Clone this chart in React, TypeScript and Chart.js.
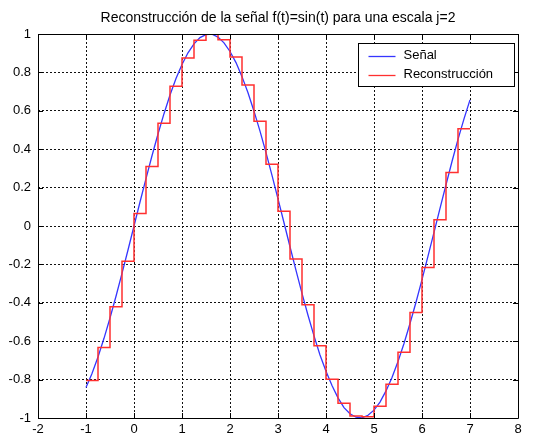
import React, { useEffect, useRef } from 'react';
import { Chart, registerables } from 'chart.js';

Chart.register(...registerables);

const titleText = 'Reconstrucción de la señal f(t)=sin(t) para una escala j=2';
const seriesNames = ['Señal', 'Reconstrucción'];

const xTicks = [-2, -1, 0, 1, 2, 3, 4, 5, 6, 7, 8];
const yTicks = [-1, -0.8, -0.6, -0.4, -0.2, 0, 0.2, 0.4, 0.6, 0.8, 1];
const yTickLabels = ['-1', '-0.8', '-0.6', '-0.4', '-0.2', '0', '0.2', '0.4', '0.6', '0.8', '1'];

const signalT = [
  -1, -0.875, -0.75, -0.625, -0.5, -0.375, -0.25, -0.125, 0, 0.125, 0.25, 0.375, 0.5, 0.625, 0.75, 0.875,
  1, 1.125, 1.25, 1.375, 1.5, 1.625, 1.75, 1.875, 2, 2.125, 2.25, 2.375, 2.5, 2.625, 2.75, 2.875,
  3, 3.125, 3.25, 3.375, 3.5, 3.625, 3.75, 3.875, 4, 4.125, 4.25, 4.375, 4.5, 4.625, 4.75, 4.875,
  5, 5.125, 5.25, 5.375, 5.5, 5.625, 5.75, 5.875, 6, 6.125, 6.25, 6.375, 6.5, 6.625, 6.75, 6.875, 7,
];
const signalY = [
  -0.841, -0.768, -0.682, -0.585, -0.479, -0.366, -0.247, -0.125, 0, 0.125, 0.247, 0.366, 0.479, 0.585, 0.682, 0.768,
  0.841, 0.902, 0.949, 0.981, 0.997, 0.999, 0.984, 0.954, 0.909, 0.851, 0.778, 0.694, 0.598, 0.494, 0.382, 0.264,
  0.141, 0.017, -0.108, -0.231, -0.351, -0.465, -0.572, -0.672, -0.757, -0.831, -0.895, -0.946, -0.978, -0.996, -0.999, -0.986,
  -0.959, -0.917, -0.859, -0.789, -0.706, -0.612, -0.508, -0.397, -0.279, -0.157, -0.033, 0.092, 0.215, 0.336, 0.451, 0.558, 0.657,
];

const stepEdges = [
  -1, -0.75, -0.5, -0.25, 0, 0.25, 0.5, 0.75, 1, 1.25, 1.5, 1.75, 2, 2.25, 2.5, 2.75,
  3, 3.25, 3.5, 3.75, 4, 4.25, 4.5, 4.75, 5, 5.25, 5.5, 5.75, 6, 6.25, 6.5, 6.75, 7,
];
const stepValues = [
  -0.805, -0.633, -0.421, -0.184, 0.065, 0.31, 0.535, 0.728, 0.875, 0.967, 1.0, 0.97, 0.88, 0.735, 0.545, 0.321,
  0.077, -0.172, -0.41, -0.624, -0.798, -0.923, -0.989, -0.994, -0.939, -0.824, -0.658, -0.451, -0.216, 0.032, 0.278, 0.507,
];

const FONT = '"Liberation Sans", Arial, Helvetica, sans-serif';
const BLUE = '#3535ff';
const RED = '#ff3030';

const framePlugin = {
  id: 'matlabFrame',
  afterDraw(chart: any) {
    const { ctx, chartArea } = chart;
    const { left, right, top, bottom } = chartArea;
    const xs = chart.scales.x;
    const ys = chart.scales.y;
    ctx.save();
    ctx.strokeStyle = '#000';
    ctx.lineWidth = 1;
    ctx.setLineDash([]);
    ctx.beginPath();
    ctx.rect(Math.round(left) + 0.5, Math.round(top) + 0.5, Math.round(right - left), Math.round(bottom - top));
    ctx.stroke();
    const tl = 5;
    ctx.beginPath();
    xTicks.forEach((v) => {
      const px = Math.round(xs.getPixelForValue(v)) + 0.5;
      ctx.moveTo(px, bottom);
      ctx.lineTo(px, bottom - tl);
      ctx.moveTo(px, top);
      ctx.lineTo(px, top + tl);
    });
    yTicks.forEach((v) => {
      const py = Math.round(ys.getPixelForValue(v)) + 0.5;
      ctx.moveTo(left, py);
      ctx.lineTo(left + tl, py);
      ctx.moveTo(right, py);
      ctx.lineTo(right - tl, py);
    });
    ctx.stroke();

    // legend
    const bx = Math.round(right - 160) + 0.5;
    const by = Math.round(top + 9) + 0.5;
    const bw = 156;
    const bh = 43;
    ctx.fillStyle = '#fff';
    ctx.fillRect(bx, by, bw, bh);
    ctx.strokeStyle = '#000';
    ctx.strokeRect(bx, by, bw, bh);
    const rows = [
      { name: seriesNames[0], color: BLUE, y: by + 12 },
      { name: seriesNames[1], color: RED, y: by + 31 },
    ];
    ctx.font = `13px ${FONT}`;
    ctx.textBaseline = 'middle';
    ctx.textAlign = 'left';
    rows.forEach((r) => {
      ctx.strokeStyle = r.color;
      ctx.lineWidth = 1.3;
      ctx.beginPath();
      ctx.moveTo(bx + 10, Math.round(r.y) + 0.5);
      ctx.lineTo(bx + 37, Math.round(r.y) + 0.5);
      ctx.stroke();
      ctx.fillStyle = '#000';
      ctx.fillText(r.name, bx + 45, r.y);
    });

    // title
    ctx.font = `14px ${FONT}`;
    ctx.textAlign = 'center';
    ctx.textBaseline = 'middle';
    ctx.fillStyle = '#000';
    ctx.fillText(titleText, (left + right) / 2, 18);
    ctx.restore();
  },
};

export default function App() {
  const ref = useRef<HTMLCanvasElement | null>(null);

  useEffect(() => {
    document.body.style.margin = '0';
    const canvas = ref.current;
    if (!canvas) return;
    const signalData = signalT.map((t, i) => ({ x: t, y: signalY[i] }));
    const stepData = stepEdges.map((t, i) => ({
      x: t,
      y: i < stepValues.length ? stepValues[i] : stepValues[stepValues.length - 1],
    }));
    const chart = new Chart(canvas, {
      type: 'line',
      data: {
        datasets: [
          {
            label: seriesNames[0],
            data: signalData,
            borderColor: BLUE,
            borderWidth: 1.3,
            pointRadius: 0,
            tension: 0,
            fill: false,
            order: 1,
          },
          {
            label: seriesNames[1],
            data: stepData,
            borderColor: RED,
            borderWidth: 1.5,
            pointRadius: 0,
            stepped: 'before',
            fill: false,
            order: 0,
          },
        ],
      },
      options: {
        responsive: false,
        animation: false,
        devicePixelRatio: 1,
        events: [],
        layout: { padding: { left: 0, right: 16, top: 34, bottom: 0 } },
        plugins: {
          legend: { display: false },
          title: { display: false },
          tooltip: { enabled: false },
        },
        scales: {
          x: {
            type: 'linear',
            min: -2,
            max: 8,
            afterBuildTicks: (scale: any) => {
              scale.ticks = xTicks.map((v) => ({ value: v }));
            },
            afterFit: (scale: any) => {
              scale.height = 23;
            },
            ticks: {
              autoSkip: false,
              maxRotation: 0,
              padding: 4,
              color: '#000',
              font: { family: FONT, size: 13 },
              callback: (v: any) => String(v),
            },
            grid: { color: '#111', lineWidth: 1, drawTicks: false },
            border: { display: false, dash: [2, 2] },
          },
          y: {
            type: 'linear',
            min: -1,
            max: 1,
            afterBuildTicks: (scale: any) => {
              scale.ticks = yTicks.map((v) => ({ value: v }));
            },
            afterFit: (scale: any) => {
              scale.width = 38;
            },
            ticks: {
              autoSkip: false,
              padding: 7,
              color: '#000',
              font: { family: FONT, size: 13 },
              callback: (v: any) => {
                const idx = yTicks.findIndex((t) => Math.abs(t - Number(v)) < 1e-9);
                return idx >= 0 ? yTickLabels[idx] : '';
              },
            },
            grid: { color: '#111', lineWidth: 1, drawTicks: false },
            border: { display: false, dash: [2, 2] },
          },
        },
      },
      plugins: [framePlugin],
    });
    return () => chart.destroy();
  }, []);

  return (
    <div style={{ position: 'absolute', left: 0, top: 0, width: 534, height: 441, background: '#fff' }}>
      <canvas ref={ref} width={534} height={441} style={{ display: 'block' }} />
    </div>
  );
}
